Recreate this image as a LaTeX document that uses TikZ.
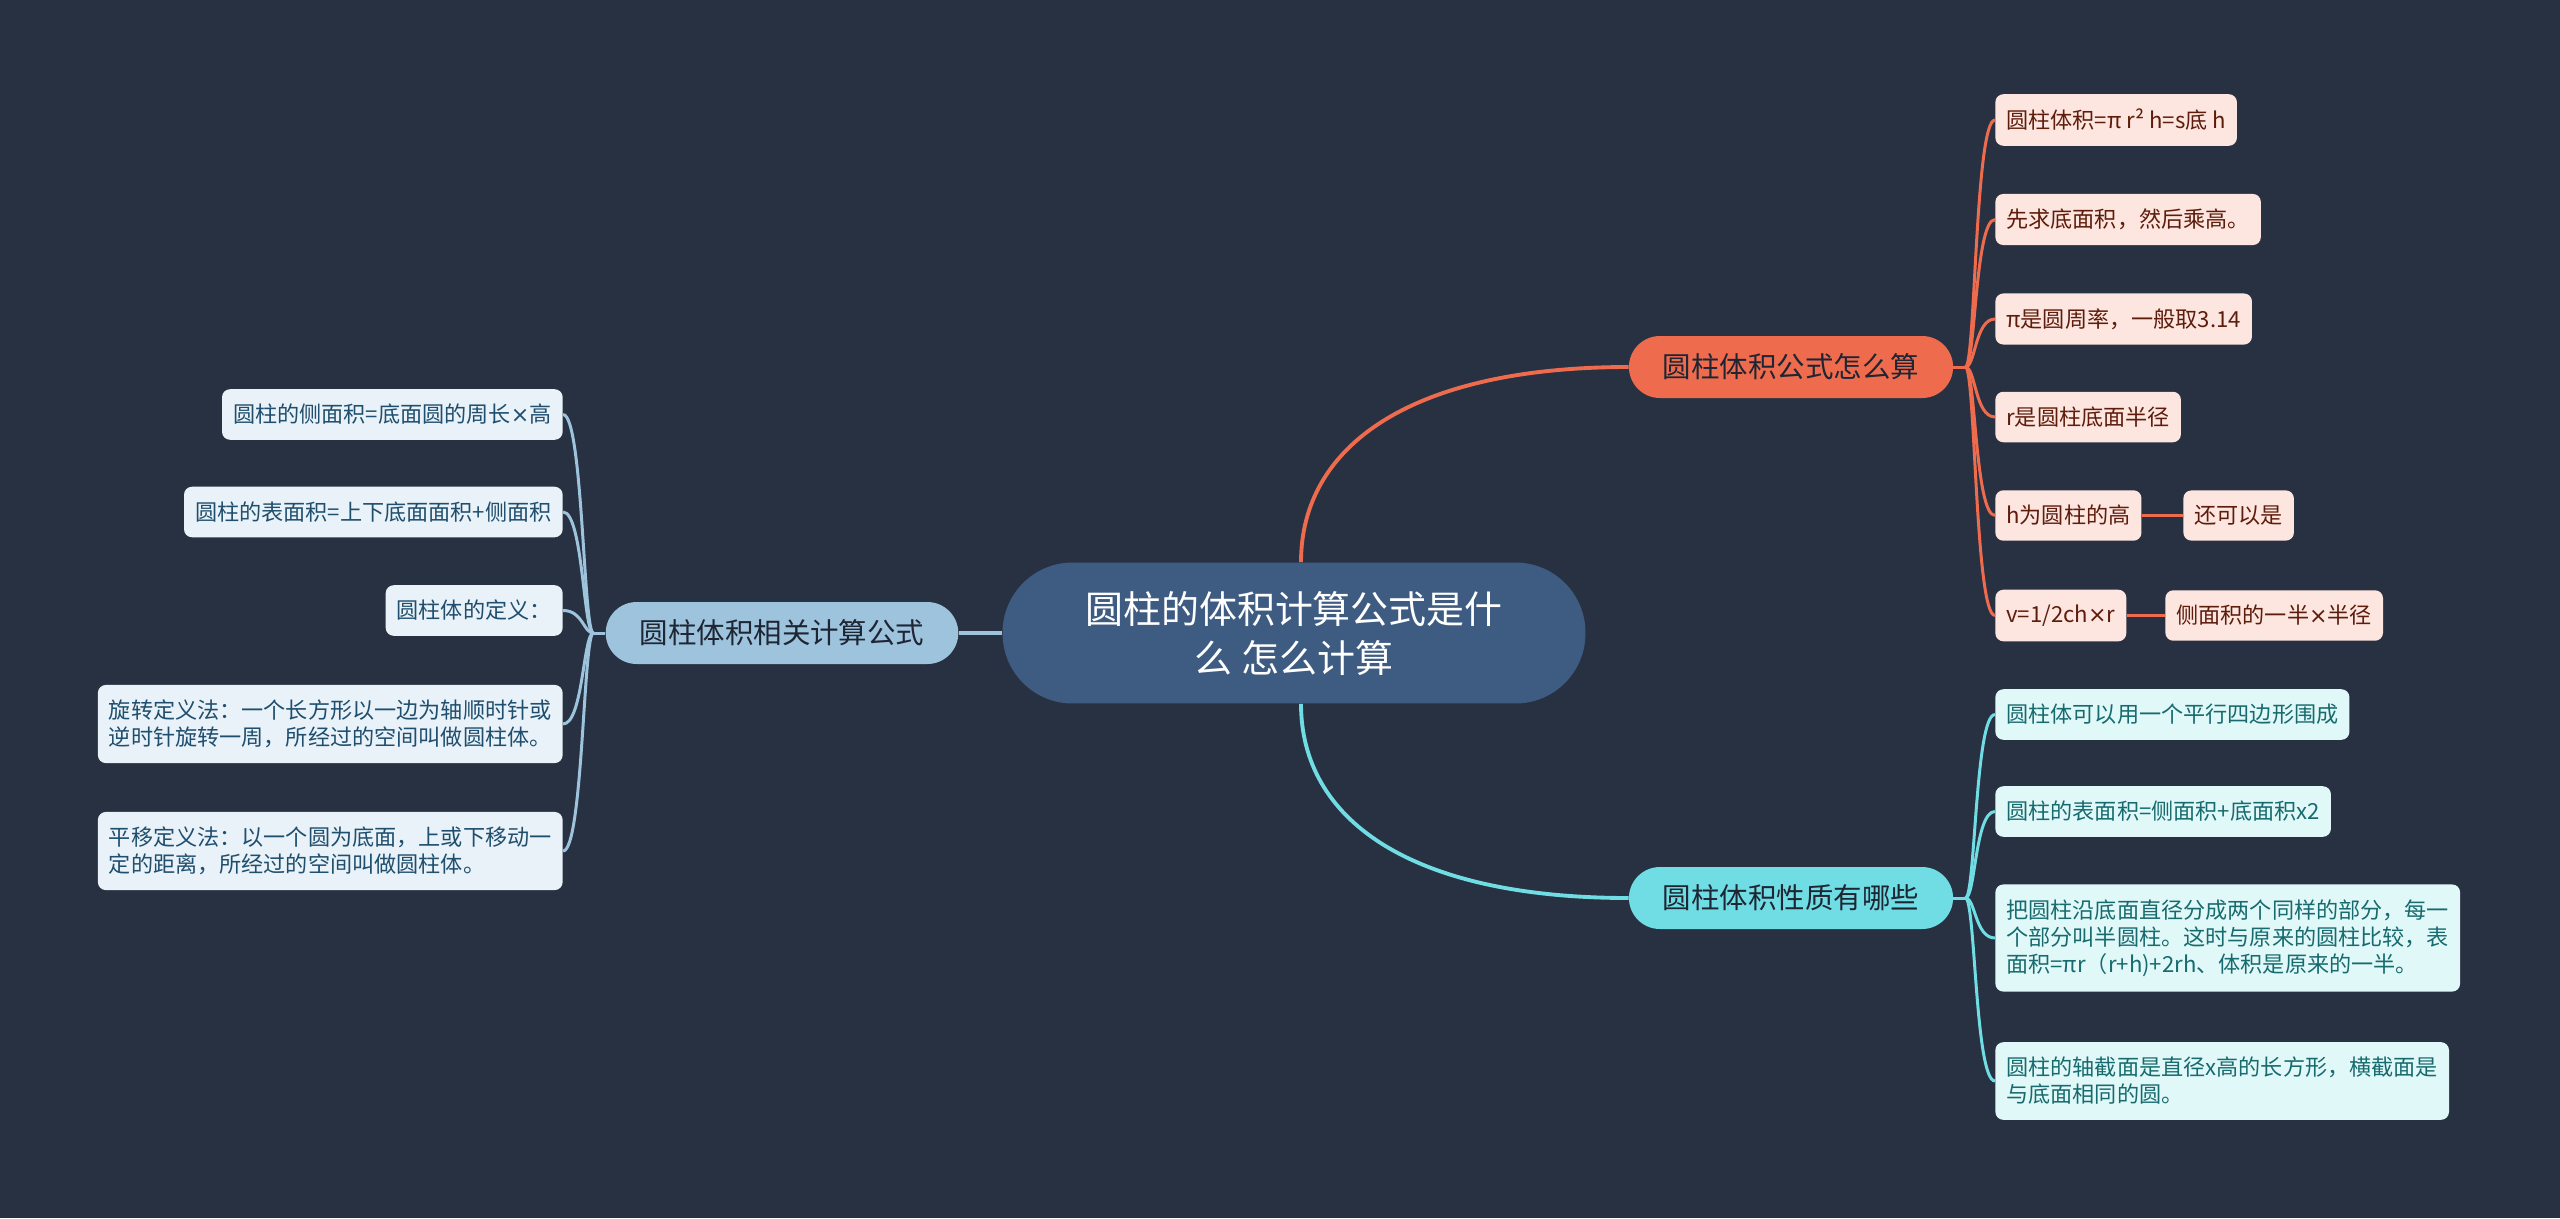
\documentclass[tikz,border=0pt]{standalone}
\usepackage{fontspec}
\setmainfont{Noto Sans CJK SC}
\newfontfamily\symfont{DejaVu Sans}
\newcommand\tms{{\symfont ×}}
\definecolor{bgcol}{HTML}{283142}
\definecolor{rootcol}{HTML}{3E5C82}
\definecolor{orcol}{HTML}{EE6C4D}
\definecolor{orleaf}{HTML}{FDE6DF}
\definecolor{ortext}{HTML}{5E1C0C}
\definecolor{tlcol}{HTML}{6FDDE3}
\definecolor{tlleaf}{HTML}{E1F8F9}
\definecolor{tltext}{HTML}{176B6E}
\definecolor{blcol}{HTML}{9DC3DD}
\definecolor{blleaf}{HTML}{E9F2F8}
\definecolor{bltext}{HTML}{1F4E6E}
\definecolor{brtext}{HTML}{1E2533}
\begin{document}
\begin{tikzpicture}[x=0.02cm,y=-0.02cm,
  rootbox/.style={fill=rootcol,text=white,rounded corners=1.4cm,minimum width=11.66cm,minimum height=2.82cm,align=center,font=\fontsize{21.6pt}{27.9pt}\selectfont},
  topicbox/.style={rounded corners=0.62cm,minimum height=1.24cm,inner xsep=0.68cm,text=brtext,font=\fontsize{16.2pt}{20pt}\selectfont},
  leafbox/.style={rounded corners=0.16cm,minimum height=0.98cm,inner xsep=0.22cm,inner ysep=0.3cm,align=left,font=\fontsize{12.6pt}{15.4pt}\selectfont},
  orbox/.style={leafbox,fill=orleaf,text=ortext},
  tlbox/.style={leafbox,fill=tlleaf,text=tltext},
  blbox/.style={leafbox,fill=blleaf,text=bltext},
  orlink/.style={draw=orcol,line width=1.7pt},
  tllink/.style={draw=tlcol,line width=1.7pt},
  bllink/.style={draw=blcol,line width=1.7pt}]
\fill[bgcol] (0,0) rectangle (2560,1218);

\node[rootbox] (root) at (1294,633) {圆柱的体积计算公式是什\\么 怎么计算};
\node[topicbox,fill=orcol] (ob) at (1791,367) {圆柱体积公式怎么算};
\node[topicbox,fill=tlcol] (tb) at (1791,898) {圆柱体积性质有哪些};
\node[topicbox,fill=blcol] (bb) at (782,633) {圆柱体积相关计算公式};

\node[orbox,anchor=west] (o1) at (1995,120) {圆柱体积=π r² h=s底 h};
\node[orbox,anchor=west] (o2) at (1995,219.5) {先求底面积，然后乘高。};
\node[orbox,anchor=west] (o3) at (1995,319) {π是圆周率，一般取3.14};
\node[orbox,anchor=west] (o4) at (1995,417) {r是圆柱底面半径};
\node[orbox,anchor=west] (o5) at (1995,515.5) {h为圆柱的高};
\node[orbox,anchor=west] (o6) at (1995,615.5) {v=1/2ch\tms r};
\node[orbox,anchor=west] (o5a) at (2183,515.5) {还可以是};
\node[orbox,anchor=west] (o6a) at (2165,615.5) {侧面积的一半\tms 半径};

\node[tlbox,anchor=west] (t1) at (1995,714.5) {圆柱体可以用一个平行四边形围成};
\node[tlbox,anchor=west] (t2) at (1995,811.5) {圆柱的表面积=侧面积+底面积x2};
\node[tlbox,anchor=west] (t3) at (1995,938) {把圆柱沿底面直径分成两个同样的部分，每一\\个部分叫半圆柱。这时与原来的圆柱比较，表\\面积=πr（r+h)+2rh、体积是原来的一半。};
\node[tlbox,anchor=west] (t4) at (1995,1081) {圆柱的轴截面是直径x高的长方形，横截面是\\与底面相同的圆。};

\node[blbox,anchor=east] (b1) at (563,414.5) {圆柱的侧面积=底面圆的周长\tms 高};
\node[blbox,anchor=east] (b2) at (563,512) {圆柱的表面积=上下底面面积+侧面积};
\node[blbox,anchor=east] (b3) at (563,610.5) {圆柱体的定义：};
\node[blbox,anchor=east] (b4) at (563,724) {旋转定义法：一个长方形以一边为轴顺时针或\\逆时针旋转一周，所经过的空间叫做圆柱体。};
\node[blbox,anchor=east] (b5) at (563,851) {平移定义法：以一个圆为底面，上或下移动一\\定的距离，所经过的空间叫做圆柱体。};

\draw[orlink,line width=2.2pt] ([xshift=0.14cm]root.north) .. controls +(0,-115) and +(-220,0) .. (ob.west);
\draw[tllink,line width=2.2pt] ([xshift=0.14cm]root.south) .. controls +(0,115) and +(-220,0) .. (tb.west);
\draw[bllink,line width=2.2pt] (root.west) -- (bb.east);

\coordinate (ot) at ([xshift=0.24cm]ob.east);
\coordinate (tt) at ([xshift=0.24cm]tb.east);
\coordinate (bt) at ([xshift=-0.24cm]bb.west);
\draw[orlink] (ob.east) -- (ot);
\draw[tllink] (tb.east) -- (tt);
\draw[bllink] (bb.west) -- (bt);
\foreach \n in {o1,o2,o3,o4,o5,o6}
  \draw[orlink] (ot) .. controls +(10,0) and +(-20,0) .. (\n.west);
\foreach \n in {t1,t2,t3,t4}
  \draw[tllink] (tt) .. controls +(10,0) and +(-20,0) .. (\n.west);
\foreach \n in {b1,b2,b3,b4,b5}
  \draw[bllink] (bt) .. controls +(-10,0) and +(20,0) .. (\n.east);
\draw[orlink] (o5.east) -- (o5a.west);
\draw[orlink] (o6.east) -- (o6a.west);
\end{tikzpicture}
\end{document}
